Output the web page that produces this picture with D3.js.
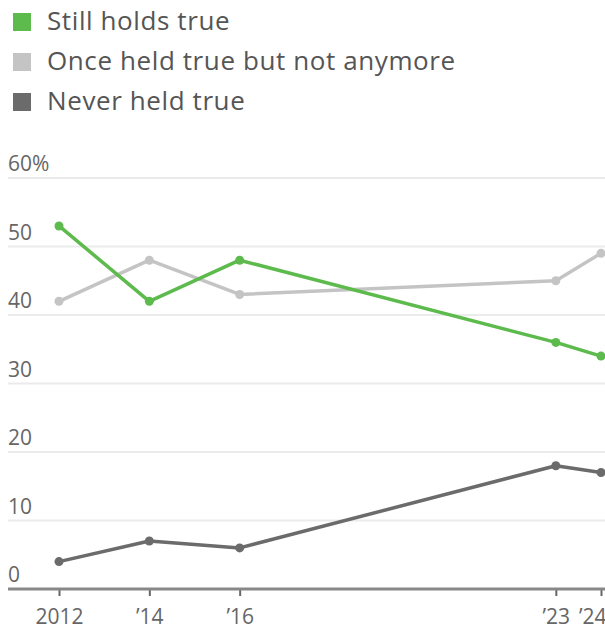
<!DOCTYPE html>
<html>
<head>
<meta charset="utf-8">
<script src="https://cdn.jsdelivr.net/npm/d3@7"></script>
<style>
  html, body { margin: 0; padding: 0; background: #fff; }
  svg { display: block; font-family: "Open Sans", "Liberation Sans", sans-serif; }
</style>
</head>
<body>
<svg id="chart" width="605" height="632"></svg>
<script>
// Survey years and their axis labels
const years = [2012, 2014, 2016, 2023, 2024];
const yearLabels = ["2012", "\u201914", "\u201916", "\u201923", "\u201924"];

// Share of respondents (%) for each answer
const stillHolds = [53, 42, 48, 36, 34];
const onceHeld = [42, 48, 43, 45, 49];
const neverHeld = [4, 7, 6, 18, 17];

// Vertical axis ticks
const yTicks = [0, 10, 20, 30, 40, 50, 60];

const seriesNames = ["Still holds true", "Once held true but not anymore", "Never held true"];
const seriesColors = ["#5dba4c", "#c4c4c4", "#6b6b6b"];
const seriesValues = [stillHolds, onceHeld, neverHeld];

const svg = d3.select("#chart");
const plotLeft = 8, plotRight = 605;

const x = d3.scaleLinear().domain([2012, 2024]).range([59, 601]);
const y = d3.scaleLinear().domain([0, 60]).range([589, 178]);

// Legend
const legend = svg.append("g").attr("class", "legend");
seriesNames.forEach((name, i) => {
  const row = legend.append("g").attr("transform", `translate(0, ${i * 40})`);
  row.append("rect")
    .attr("x", 13).attr("y", 13)
    .attr("width", 18).attr("height", 18)
    .attr("fill", seriesColors[i]);
  row.append("text")
    .attr("x", 47).attr("y", 30)
    .attr("font-size", 26)
    .attr("letter-spacing", 0.6)
    .attr("fill", "#555")
    .text(name);
});

// Gridlines and y labels
const grid = svg.append("g").attr("class", "grid");
grid.selectAll("line")
  .data(yTicks.filter(d => d > 0))
  .join("line")
  .attr("x1", plotLeft).attr("x2", plotRight)
  .attr("y1", d => y(d)).attr("y2", d => y(d))
  .attr("stroke", "#ebebeb")
  .attr("stroke-width", 2);

grid.selectAll("text")
  .data(yTicks)
  .join("text")
  .attr("x", plotLeft)
  .attr("y", d => y(d) - 7)
  .attr("font-size", 21)
  .attr("fill", "#666")
  .text(d => d === 60 ? d + "%" : d);

// X axis with ticks below the baseline
const xAxis = d3.axisBottom(x)
  .tickValues(years)
  .tickFormat((d, i) => yearLabels[i])
  .tickSize(7)
  .tickPadding(13);

const axisG = svg.append("g")
  .attr("transform", `translate(0, ${y(0)})`)
  .call(xAxis);
axisG.select(".domain").remove();
axisG.selectAll(".tick line").attr("stroke", "#666").attr("stroke-width", 2);
axisG.selectAll(".tick text")
  .attr("font-family", "\"Open Sans\", \"Liberation Sans\", sans-serif")
  .attr("font-size", 21)
  .attr("fill", "#666")
  .attr("text-anchor", (d, i) => i === years.length - 1 ? "end" : "middle")
  .attr("dx", (d, i) => i === years.length - 1 ? 5 : 0);

svg.append("line")
  .attr("x1", plotLeft).attr("x2", plotRight)
  .attr("y1", y(0)).attr("y2", y(0))
  .attr("stroke", "#888")
  .attr("stroke-width", 3);

// Lines and points, drawn so the green series sits on top
const line = d3.line()
  .x((d, i) => x(years[i]))
  .y(d => y(d));

[2, 1, 0].forEach(s => {
  const g = svg.append("g").attr("class", "series");
  g.append("path")
    .datum(seriesValues[s])
    .attr("d", line)
    .attr("fill", "none")
    .attr("stroke", seriesColors[s])
    .attr("stroke-width", 3.5)
    .attr("stroke-linejoin", "round");
  g.selectAll("circle")
    .data(seriesValues[s])
    .join("circle")
    .attr("cx", (d, i) => x(years[i]))
    .attr("cy", d => y(d))
    .attr("r", 4.5)
    .attr("fill", seriesColors[s]);
});
</script>
</body>
</html>
